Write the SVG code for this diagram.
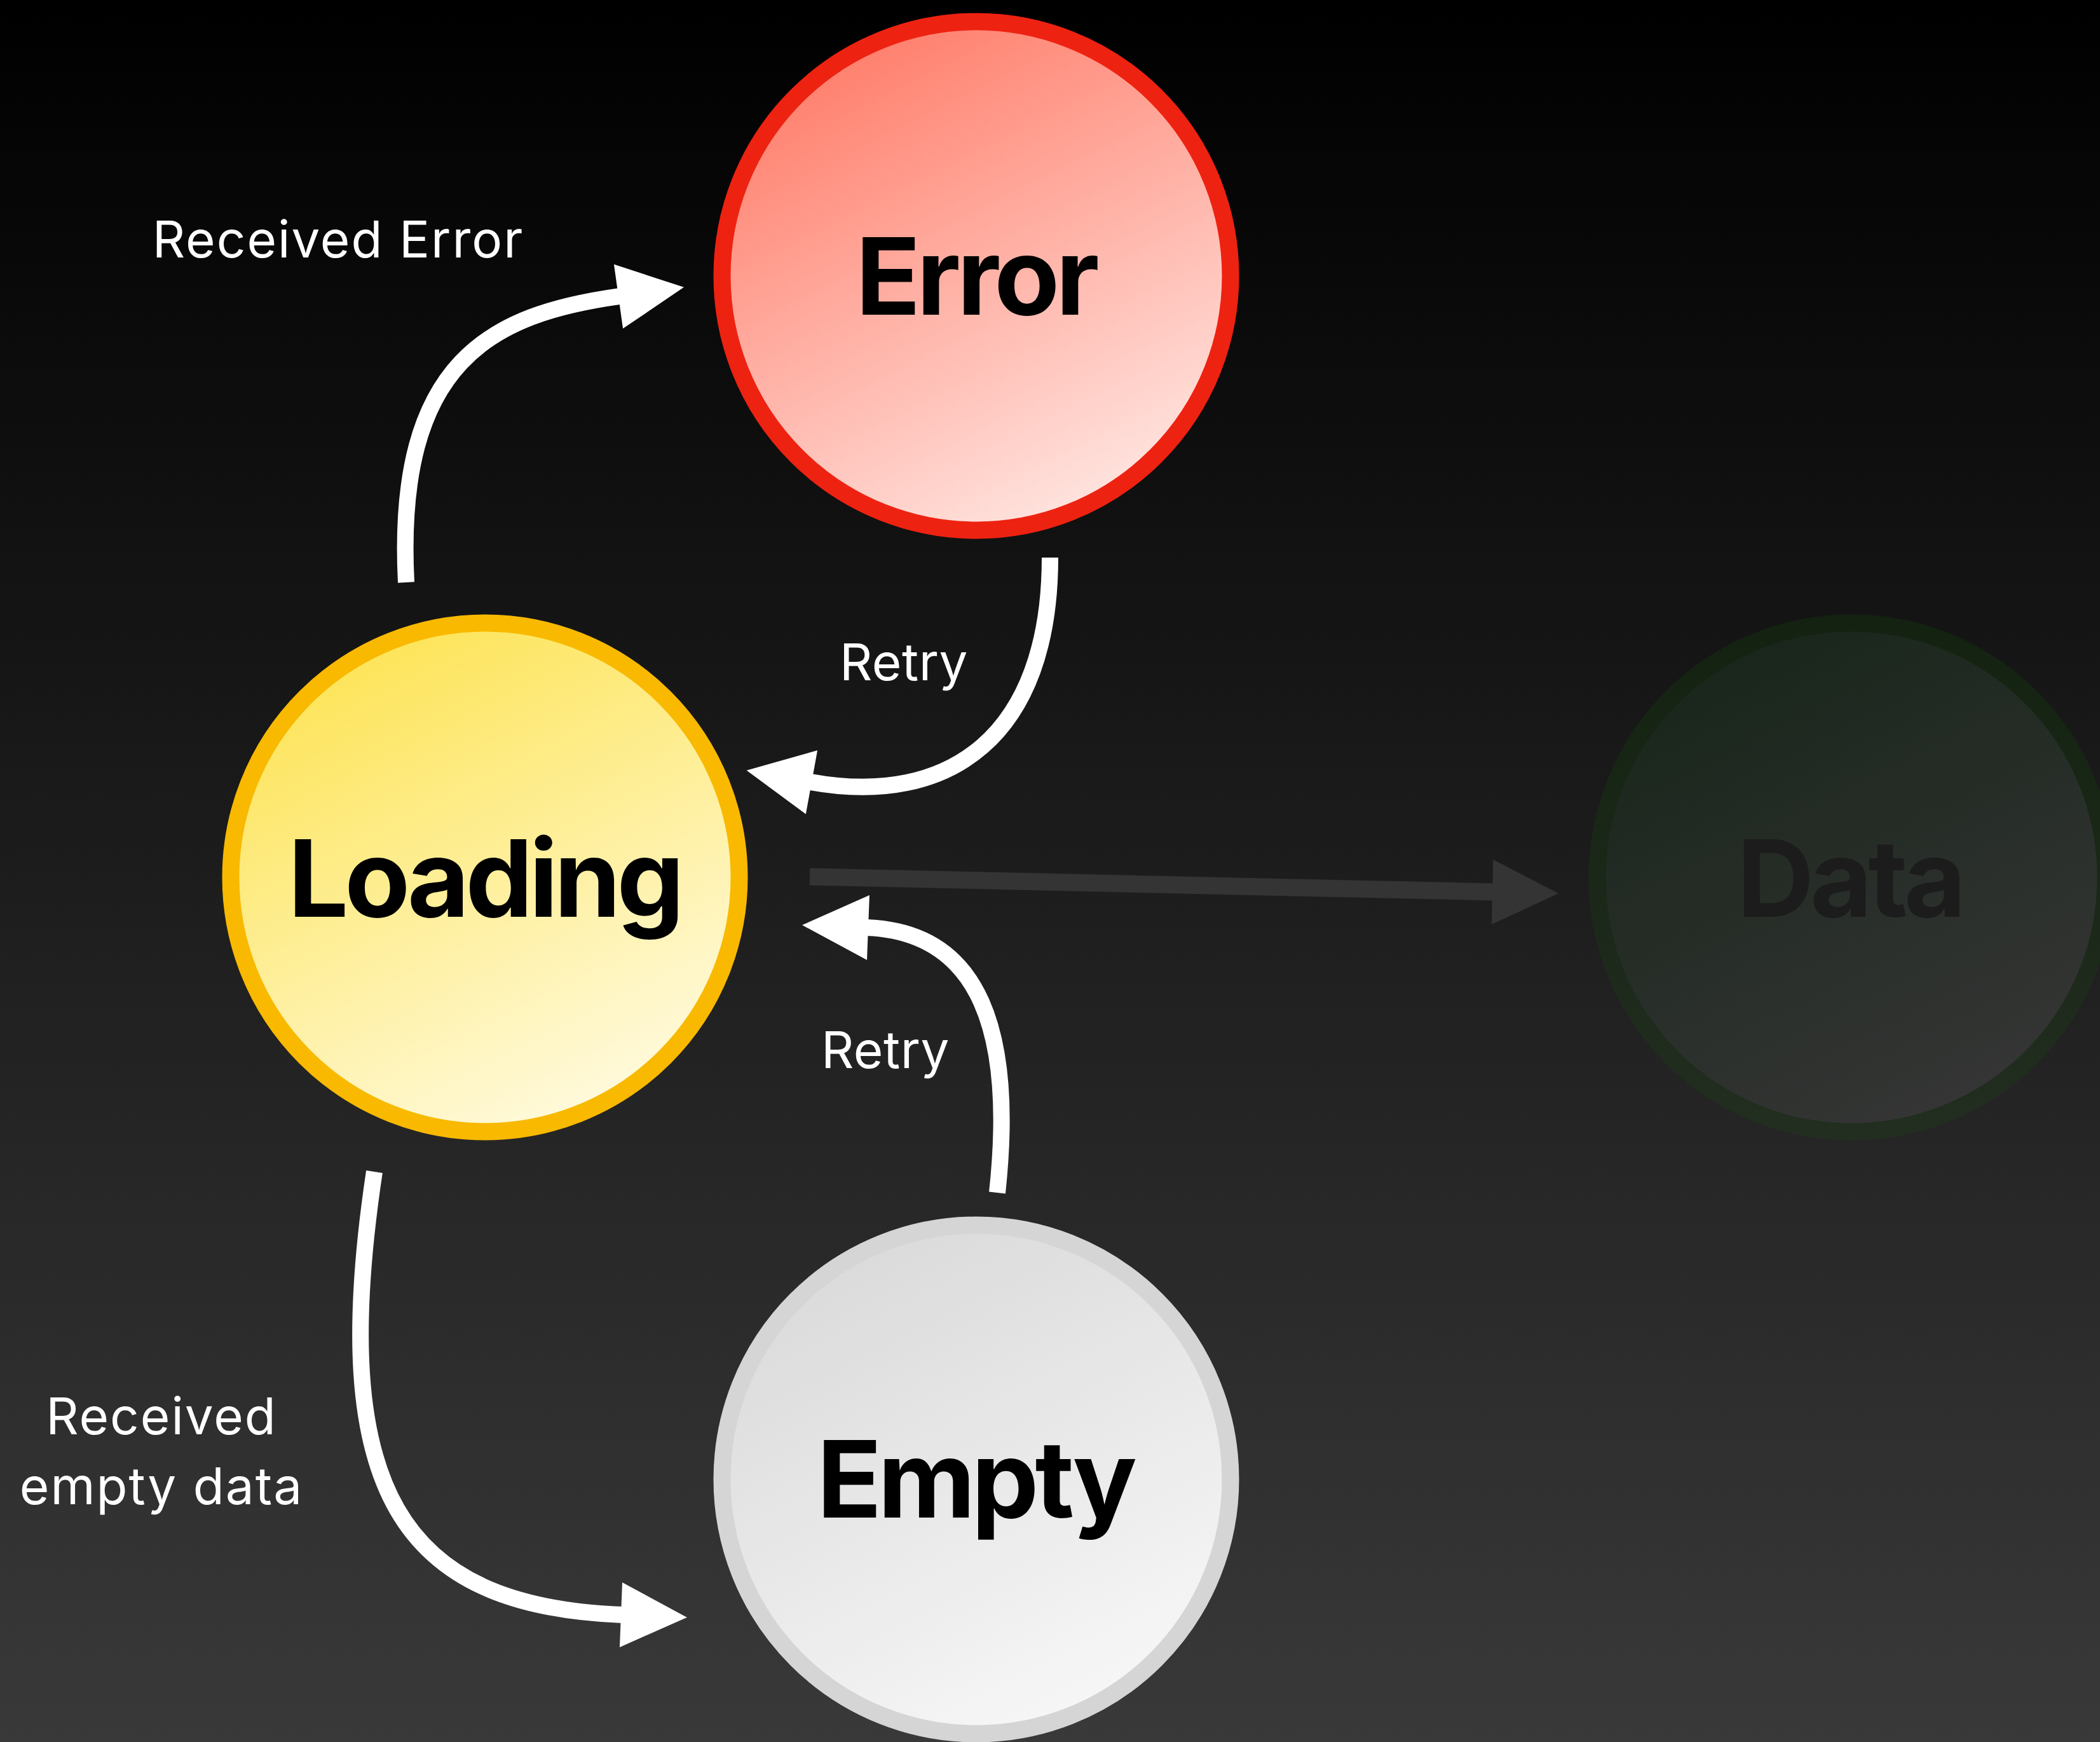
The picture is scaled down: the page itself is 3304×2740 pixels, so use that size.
<svg xmlns="http://www.w3.org/2000/svg" width="3304" height="2740" viewBox="0 0 3304 2740">
  <defs>
    <linearGradient id="bg" x1="0" y1="0" x2="0" y2="1">
      <stop offset="0" stop-color="#000000"/>
      <stop offset="1" stop-color="#393939"/>
    </linearGradient>
    <linearGradient id="fillError" x1="0.25" y1="0" x2="0.75" y2="1">
      <stop offset="0" stop-color="#ff7a67"/>
      <stop offset="1" stop-color="#ffe9e5"/>
    </linearGradient>
    <linearGradient id="fillLoading" x1="0.25" y1="0" x2="0.75" y2="1">
      <stop offset="0" stop-color="#fde352"/>
      <stop offset="1" stop-color="#fffbe3"/>
    </linearGradient>
    <linearGradient id="fillEmpty" x1="0.25" y1="0" x2="0.75" y2="1">
      <stop offset="0" stop-color="#d9d9d9"/>
      <stop offset="1" stop-color="#f8f8f8"/>
    </linearGradient>
    <linearGradient id="fillData" x1="0.25" y1="0" x2="0.75" y2="1">
      <stop offset="0" stop-color="#18251a"/>
      <stop offset="1" stop-color="#363636"/>
    </linearGradient>
    <linearGradient id="strokeData" x1="0" y1="0" x2="0" y2="1">
      <stop offset="0" stop-color="#132211"/>
      <stop offset="1" stop-color="#222e20"/>
    </linearGradient>
    <marker id="headWhite" markerUnits="userSpaceOnUse" viewBox="-4 -55 110 110" refX="0" refY="0" markerWidth="110" markerHeight="110" orient="auto" overflow="visible">
      <path d="M-2 -51 L102 0 L-2 51 Z" fill="#ffffff"/>
    </marker>
    <marker id="headGrey" markerUnits="userSpaceOnUse" viewBox="-4 -55 110 110" refX="0" refY="0" markerWidth="110" markerHeight="110" orient="auto" overflow="visible">
      <path d="M-2 -51 L102 0 L-2 51 Z" fill="#343434"/>
    </marker>
  </defs>
  <style>
    .ring { stroke-width: 27; }
    .state { font-family: Inter, "Liberation Sans", sans-serif; font-weight: 700; font-size: 168px; letter-spacing: -6px; text-anchor: middle; fill: #000000; }
    .label { font-family: Inter, "Liberation Sans", sans-serif; font-weight: 400; font-size: 80px; letter-spacing: 2px; text-anchor: middle; fill: #ffffff; }
    .label.short { letter-spacing: 0.5px; }
    .edge { fill: none; stroke: #ffffff; stroke-width: 26; marker-end: url(#headWhite); }
    .edge-muted { fill: none; stroke: #343434; stroke-width: 27; marker-end: url(#headGrey); }
  </style>

  <rect x="0" y="0" width="3304" height="2740" fill="url(#bg)"/>

  <!-- transitions -->
  <g id="connectors">
    <path class="edge" d="M639 916 C621 566 775 494 975 466"/>
    <path class="edge" d="M1652 877 C1652 1157 1495 1270 1275 1230"/>
    <path class="edge" d="M1569 1876 C1596 1626 1544 1466 1364 1459"/>
    <path class="edge" d="M589 1843 C514 2343 629 2526 979 2540"/>
    <path class="edge-muted" d="M1274 1379 L2350 1403"/>
    <text class="label" x="532" y="405">Received Error</text>
    <text class="label short" x="1422" y="1070">Retry</text>
    <text class="label short" x="1393" y="1680">Retry</text>
    <text class="label" x="254" y="2256">Received</text>
    <text class="label" x="254" y="2366">empty data</text>
  </g>

  <g id="node-error">
    <circle class="ring" cx="1536" cy="434" r="400" fill="url(#fillError)" stroke="#ee2211"/>
    <text class="state" x="1535" y="495">Error</text>
  </g>

  <g id="node-loading">
    <circle class="ring" cx="763" cy="1380" r="400" fill="url(#fillLoading)" stroke="#f8b900"/>
    <text class="state" x="762" y="1442">Loading</text>
  </g>

  <g id="node-empty">
    <circle class="ring" cx="1536" cy="2327" r="400" fill="url(#fillEmpty)" stroke="#d5d5d5"/>
    <text class="state" x="1534" y="2387">Empty</text>
  </g>

  <g id="node-data">
    <circle class="ring" cx="2913" cy="1380" r="400" fill="url(#fillData)" stroke="url(#strokeData)"/>
    <text class="state" x="2910" y="1442" style="fill:#1c1c1c">Data</text>
  </g>
</svg>
